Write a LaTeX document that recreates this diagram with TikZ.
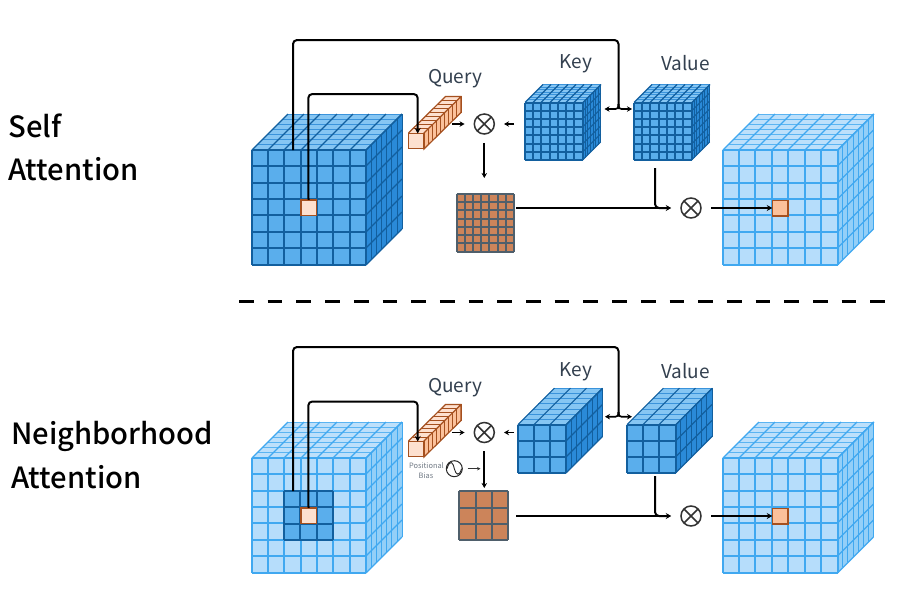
\documentclass[tikz,border=0pt]{standalone}
\usepackage{fontspec}
\setmainfont{Noto Sans CJK SC}
\newfontfamily\titlefont{Noto Sans CJK SC Medium}
\usetikzlibrary{arrows.meta}
\definecolor{dfront}{HTML}{5AAEEC}
\definecolor{dtop}{HTML}{86C6F3}
\definecolor{dside}{HTML}{2A8AD8}
\definecolor{dline}{HTML}{125F9E}
\definecolor{dmid}{HTML}{3A93DB}
\definecolor{lfront}{HTML}{B6DDFB}
\definecolor{ltop}{HTML}{BDE0FB}
\definecolor{lside}{HTML}{93CFF8}
\definecolor{lline}{HTML}{40A8F0}
\definecolor{lmid}{HTML}{5AB4F2}
\definecolor{qfill}{HTML}{FDE0CF}
\definecolor{qline}{HTML}{A5501F}
\definecolor{ofill}{HTML}{FBC19B}
\definecolor{bfill}{HTML}{CC845A}
\definecolor{bline}{HTML}{4F5F6B}
\definecolor{tcol}{HTML}{33404F}
\tikzset{
  x=1pt,y=-1pt,
  conn/.style={black,line width=2pt,rounded corners=4pt,-{Stealth[length=5.5pt,width=6pt]}},
  plainconn/.style={black,line width=2pt,rounded corners=4pt},
  short/.style={black,line width=1.7pt,-{Stealth[length=5pt,width=5.5pt]}},
  opnode/.style={circle,draw=black!80,line width=1.5pt,minimum size=20pt,inner sep=0pt,path picture={
    \draw[black!80,line width=1.5pt] (path picture bounding box.north west)--(path picture bounding box.south east)
      (path picture bounding box.north east)--(path picture bounding box.south west);}},
  lab/.style={text=tcol,font=\fontsize{19}{21}\selectfont,inner sep=0pt,anchor=base},
  title/.style={text=black,font=\titlefont\fontsize{29.2}{31}\selectfont,inner sep=0pt,anchor=base west},
  tiny/.style={text=tcol!70,font=\fontsize{7.4}{8}\selectfont,inner sep=0pt}
}
% #1 x0, #2 y0, #3 width, #4 height, #5 depth, #6 nx, #7 ny, #8 nd, #9 colour prefix
\newcommand{\cw}{2pt}
\newcommand{\cubebox}[9]{%
  \pgfmathsetmacro{\xa}{#1}\pgfmathsetmacro{\ya}{#2}%
  \pgfmathsetmacro{\xb}{#1+#3}\pgfmathsetmacro{\yb}{#2+#4}%
  \pgfmathsetmacro{\dd}{#5}%
  \fill[#9front] (\xa,\ya) rectangle (\xb,\yb);
  \fill[#9top] (\xa,\ya) -- (\xb,\ya) -- (\xb+\dd,\ya-\dd) -- (\xa+\dd,\ya-\dd) -- cycle;
  \fill[#9side] (\xb,\ya) -- (\xb+\dd,\ya-\dd) -- (\xb+\dd,\yb-\dd) -- (\xb,\yb) -- cycle;
  \foreach \k in {1,...,#8}{
    \pgfmathsetmacro{\pk}{\k*\dd/#8}
    \draw[#9mid,line width=0.9pt] (\xa+\pk,\ya-\pk) -- (\xb+\pk,\ya-\pk);
    \draw[#9line,line width=0.7pt] (\xb+\pk,\ya-\pk) -- (\xb+\pk,\yb-\pk);
  }
  \begin{scope}[draw=#9line,line width=\cw,line join=miter]
  \foreach \i in {0,...,#6}{
    \pgfmathsetmacro{\px}{round(\xa+\i*#3/#6)}
    \draw (\px,\yb) -- (\px,\ya);
    \draw[line width=1.1pt] (\px,\ya) -- (\px+\dd,\ya-\dd);
  }
  \foreach \j in {0,...,#7}{
    \pgfmathsetmacro{\py}{round(\ya+\j*#4/#7)}
    \draw (\xa,\py) -- (\xb,\py);
    \draw[line width=1.1pt] (\xb,\py) -- (\xb+\dd,\py-\dd);
  }
  \end{scope}
}
% flat grid: #1 x0, #2 y0, #3 size x, #4 size y, #5 n, #6 fill, #7 line
\newcommand{\flatgrid}[7]{%
  \fill[#6] (#1,#2) rectangle (#1+#3,#2+#4);
  \foreach \i in {0,...,#5}{
    \pgfmathsetmacro{\gx}{round(#1+\i*#3/#5)}
    \pgfmathsetmacro{\gy}{round(#2+\i*#4/#5)}
    \draw[#7,line width=1.6pt] (\gx,#2) -- (\gx,#2+#4);
    \draw[#7,line width=1.6pt] (#1,\gy) -- (#1+#3,\gy);
  }
}
% ribbon: #1 y of the front top edge
\newcommand{\ribbon}[1]{%
  \fill[qfill] (408.5,#1)--(424,#1)--(461,#1-36.5)--(445.5,#1-36.5)--cycle;
  \fill[ofill] (424,#1)--(461,#1-36.5)--(461,#1-20.5)--(424,#1+16)--cycle;
  \foreach \k in {0,...,9}{\draw[qline,line width=0.9pt] ({408.5+\k*37/9},{#1-\k*36.5/9})--++(15.5,0)--++(0,16);}
  \draw[qline,line width=1.2pt] (408.5,#1)--(445.5,#1-36.5)--(461,#1-36.5)--(461,#1-20.5)--(424,#1+16)--(424,#1)--(461,#1-36.5);
}
\begin{document}
\begin{tikzpicture}
\useasboundingbox (0,0) rectangle (906,603);
\fill[white] (0,0) rectangle (906,603);

% --- titles
\node[title] (t1) at (8.5,137) {Self};
\node[title] (t2) at (8,180) {Attention};
\node[title] (t3) at (11,444) {Neighborhood};
\node[title] (t4) at (11,488) {Attention};

% --- separator
\coordinate (sepa) at (239,301.5);
\coordinate (sepb) at (886,301.5);
\draw[black,line width=3pt,dash pattern=on 14.7pt off 14pt] (sepa) -- (sepb);

% ===== top row
\cubebox{251.5}{150}{114.5}{114.5}{36}{7}{7}{7}{d}
\renewcommand{\cw}{1.6pt}
\cubebox{525}{102.5}{57.7}{57.7}{18}{7}{7}{7}{d}
\cubebox{634}{102.5}{57.7}{57.7}{18}{7}{7}{7}{d}
\renewcommand{\cw}{2pt}
\cubebox{722.5}{150}{115}{114.5}{36}{7}{7}{7}{l}
\ribbon{133}
\node[draw=qline,fill=qfill,line width=1.2pt,minimum size=15.5pt,inner sep=0pt,outer sep=0pt,anchor=north west] (q1) at (408.5,133.3) {};
\flatgrid{456.7}{194}{57.3}{57.7}{7}{bfill}{bline}
\coordinate (b1) at (516,208);
% source / target cells
\node[draw=qline,fill=qfill,line width=1.5pt,minimum size=15.5pt,inner sep=0pt,outer sep=0pt] (s1) at (308.5,207.5) {};
\node[draw=qline,fill=ofill,line width=1.5pt,minimum size=15.5pt,inner sep=0pt,outer sep=0pt] (r1) at (780,208) {};
% ops
\node[opnode] (o1) at (484.3,124) {};
\node[opnode] (o2) at (691,208) {};
% labels
\node[lab] (lq1) at (455,83) {Query};
\node[lab] (lk1) at (576,68) {Key};
\node[lab] (lv1) at (685.5,70.7) {Value};
% connectors
\coordinate (a1) at (293,150);
\coordinate (sp1) at (618.5,109);
\coordinate (kt) at (604.5,109);
\coordinate (vt) at (632,109);
\draw[plainconn] (a1) -- (293,40) -- (618.5,40) -- (sp1);
\draw[short,rounded corners=3pt] (618.5,104) |- (kt);
\draw[short,rounded corners=3pt] (618.5,104) |- (vt);
\draw[conn] (s1.north) -- (308.3,94) -- (417.7,94) -- (417.7,133.5);
\draw[short,shorten >=9pt] (452,124) -- (o1.west);
\draw[short,shorten >=9pt] (514,124) -- (o1.east);
\draw[short] (o1.south) ++(0,8) -- (484.3,178);
\draw[conn,shorten >=9pt,rounded corners=0pt] (b1) -- (o2.west);
\draw[plainconn] (655,168) -- (655,208) -- (666,208);
\draw[conn,shorten <=9.5pt,rounded corners=0pt] (o2.east) -- (r1.west);

% ===== bottom row
\cubebox{251.5}{458}{114.5}{114.5}{36}{7}{7}{7}{l}
\renewcommand{\cw}{1.8pt}
\cubebox{517.5}{424.7}{48.5}{48.5}{36.5}{3}{3}{7}{d}
\cubebox{627}{424.7}{48.5}{48.5}{36.5}{3}{3}{7}{d}
\renewcommand{\cw}{2pt}
\cubebox{722.5}{458}{115}{114.5}{36}{7}{7}{7}{l}
% neighbourhood
\flatgrid{284.3}{491.3}{48.4}{48.4}{3}{dfront}{dline}
\ribbon{441}
\node[draw=qline,fill=qfill,line width=1.2pt,minimum size=15.5pt,inner sep=0pt,outer sep=0pt,anchor=north west] (q2) at (408.5,441.3) {};
\flatgrid{459.3}{491.3}{49}{48.7}{3}{bfill}{bline}
\coordinate (b2) at (516,516);
% cells
\node[draw=qline,fill=qfill,line width=1.5pt,minimum size=15.5pt,inner sep=0pt,outer sep=0pt] (s2) at (308.5,515.5) {};
\node[draw=qline,fill=ofill,line width=1.5pt,minimum size=15.5pt,inner sep=0pt,outer sep=0pt] (r2) at (780,516) {};
% ops
\node[opnode] (o3) at (484.3,432.5) {};
\node[opnode] (o4) at (691,516) {};
% positional bias
\node[tiny] (pb1) at (426.5,465.5) {Positional};
\node[tiny] (pb2) at (426,475.5) {Bias};
\node[circle,draw=black!85,line width=1pt,minimum size=16pt,inner sep=0pt] (sn) at (454.3,468.7) {};
\draw[black!85,line width=0.9pt] (447,468.7) .. controls (450,459) and (453,462) .. (454.3,468.7) .. controls (456,475) and (459,477) .. (461.6,468.7);
\coordinate (sna) at (467.5,468.7);
\coordinate (snb) at (480.5,468.7);
\draw[black!80,line width=0.9pt,-{Stealth[length=3.5pt,width=3.5pt]}] (sna) -- (snb);
% labels
\node[lab] (lq2) at (455,392.7) {Query};
\node[lab] (lk2) at (576,376) {Key};
\node[lab] (lv2) at (685.5,378.7) {Value};
% connectors
\coordinate (a2) at (293,491);
\coordinate (sp2) at (618.5,416.7);
\coordinate (kt2) at (605,416.7);
\coordinate (vt2) at (632,416.7);
\draw[plainconn] (a2) -- (293,347) -- (618.5,347) -- (sp2);
\draw[short,rounded corners=3pt] (618.5,412) |- (kt2);
\draw[short,rounded corners=3pt] (618.5,412) |- (vt2);
\draw[conn] (s2.north) -- (308.3,401.5) -- (417.7,401.5) -- (417.7,441.5);
\draw[short,shorten >=9pt] (452,432.5) -- (o3.west);
\draw[short,shorten >=9pt] (514,432.5) -- (o3.east);
\draw[short] (o3.south) ++(0,8) -- (484.3,488);
\draw[conn,shorten >=9pt,rounded corners=0pt] (b2) -- (o4.west);
\draw[plainconn] (655,476) -- (655,516) -- (666,516);
\draw[conn,shorten <=9.5pt,rounded corners=0pt] (o4.east) -- (r2.west);
\end{tikzpicture}
\end{document}
